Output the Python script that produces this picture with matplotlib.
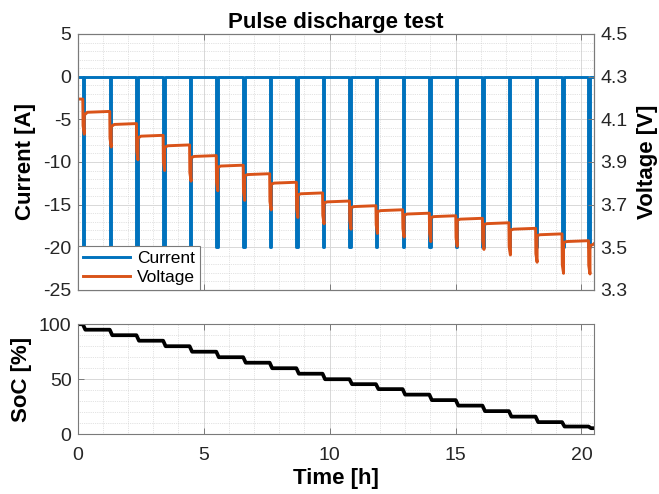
import matplotlib
matplotlib.use('Agg')
import matplotlib.pyplot as plt
from matplotlib.ticker import MultipleLocator, FormatStrFormatter

plt.rcParams['font.family'] = ['Liberation Sans', 'DejaVu Sans']
plt.rcParams['axes.unicode_minus'] = False

# pulse start times [h]
pulse_t = [0.20, 1.27, 2.33, 3.39, 4.44, 5.50, 6.57, 7.62, 8.68, 9.72,
           10.79, 11.84, 12.90, 13.96, 15.01, 16.07, 17.12, 18.18, 19.23, 20.28]
pulse_dur = 0.06
pulse_amp = -20.0
t_end = 20.5

# voltage levels [V]
v_start = 4.195
v_dip = [4.03, 3.97, 3.91, 3.86, 3.81, 3.765, 3.72, 3.675, 3.64, 3.61,
         3.585, 3.565, 3.548, 3.527, 3.505, 3.49, 3.464, 3.43, 3.378, 3.375]
v_after = [4.12, 4.066, 4.012, 3.968, 3.92, 3.875, 3.836, 3.796, 3.746, 3.708,
           3.686, 3.667, 3.651, 3.639, 3.627, 3.607, 3.58, 3.555, 3.522, 3.508]
v_rest = [4.137, 4.08, 4.025, 3.98, 3.93, 3.885, 3.845, 3.805, 3.755, 3.717,
          3.695, 3.676, 3.66, 3.648, 3.636, 3.615, 3.589, 3.563, 3.531, 3.517]

# state of charge [%] before first pulse and after each pulse
soc_levels = [100, 95, 90, 85, 80, 75, 70, 65, 60, 55, 50,
               45.5, 41, 36, 31, 26, 21, 16, 11, 7, 5.5]

# build the traces from the read values
t_i, cur = [0.0], [0.0]
t_v, volt = [0.0], [v_start]
t_s, soc = [0.0], [soc_levels[0]]
for k, t0 in enumerate(pulse_t):
    t1 = t0 + pulse_dur
    t_i += [t0, t0, t1, t1]
    cur += [0.0, pulse_amp, pulse_amp, 0.0]
    prev = v_start if k == 0 else v_rest[k - 1]
    t_v += [t0, t0 + 0.01, t1, t1, t1 + 0.12]
    volt += [prev, v_dip[k] + 0.04, v_dip[k], v_after[k], v_rest[k] - 0.004]
    nxt = pulse_t[k + 1] if k + 1 < len(pulse_t) else t_end
    t_v += [nxt]
    volt += [v_rest[k]]
    t_s += [t0, t1 + 0.04]
    soc += [soc_levels[k], soc_levels[k + 1]]
t_i.append(t_end)
cur.append(0.0)
t_s.append(t_end)
soc.append(soc_levels[-1])

blue = '#0072BD'
orange = '#D95319'
edge = '#7a7a7a'
txt = '#262626'
lab_fs = 16
tick_fs = 14

fig = plt.figure(figsize=(6.59, 4.94), dpi=100)
ax1 = fig.add_axes([0.1180, 0.4130, 0.7834, 0.5182])
ax3 = fig.add_axes([0.1180, 0.1210, 0.7834, 0.2227])

def style(ax, ymaj, ymin):
    ax.set_xlim(0, t_end)
    ax.xaxis.set_major_locator(MultipleLocator(5))
    ax.xaxis.set_minor_locator(MultipleLocator(1))
    ax.yaxis.set_major_locator(MultipleLocator(ymaj))
    ax.yaxis.set_minor_locator(MultipleLocator(ymin))
    ax.grid(which='major', color='#d8d8d8', linewidth=0.7, linestyle='-')
    ax.grid(which='minor', color='#c8c8c8', linewidth=0.5, linestyle=':')
    ax.set_axisbelow(True)
    ax.tick_params(which='major', direction='in', length=4, width=0.7,
                   colors=edge, labelcolor=txt, labelsize=tick_fs, top=True)
    ax.tick_params(axis='y', which='major', pad=4.5)
    ax.tick_params(axis='x', which='major', pad=9)
    ax.tick_params(which='minor', length=0)
    for s in ax.spines.values():
        s.set_color(edge)
        s.set_linewidth(0.8)

# top: current and voltage
style(ax1, 5, 1)
ax1.set_ylim(-25, 5)
ax1.tick_params(labelbottom=False)
l1, = ax1.plot(t_i, cur, color=blue, linewidth=2.1, label='Current')
ax1.set_ylabel('Current [A]', fontsize=lab_fs, fontweight='bold')
ax1.yaxis.set_label_coords(-0.08, 0.5)
ax1.set_title('Pulse discharge test', fontsize=lab_fs, fontweight='bold', pad=4)

ax2 = ax1.twinx()
ax2.set_ylim(3.3, 4.5)
ax2.set_yticks([3.3, 3.5, 3.7, 3.9, 4.1, 4.3, 4.5])
ax2.yaxis.set_major_formatter(FormatStrFormatter('%.1f'))
ax2.tick_params(direction='in', length=4, width=0.7, colors=edge,
                labelcolor=txt, labelsize=tick_fs, pad=4.5)
for s in ax2.spines.values():
    s.set_color(edge)
    s.set_linewidth(0.8)
l2, = ax2.plot(t_v, volt, color=orange, linewidth=2.1, label='Voltage')
ax2.set_ylabel('Voltage [V]', fontsize=lab_fs, fontweight='bold')
ax2.yaxis.set_label_coords(1.083, 0.5)

leg = ax2.legend(handles=[l1, l2], loc='lower left', fontsize=12.5,
                 handlelength=2.7, handletextpad=0.4, borderpad=0.3,
                 labelspacing=0.2, borderaxespad=0, fancybox=False,
                 framealpha=1, edgecolor=edge)
leg.get_frame().set_linewidth(0.8)

# bottom: state of charge
style(ax3, 50, 10)
ax3.set_ylim(0, 100)
ax3.plot(t_s, soc, color='black', linewidth=2.7)
ax3.set_ylabel('SoC [%]', fontsize=lab_fs, fontweight='bold')
ax3.yaxis.set_label_coords(-0.088, 0.5)
ax3.set_xlabel('Time [h]', fontsize=lab_fs, fontweight='bold')
ax3.xaxis.set_label_coords(0.5, -0.31)

fig.savefig('out.png', dpi=100)
